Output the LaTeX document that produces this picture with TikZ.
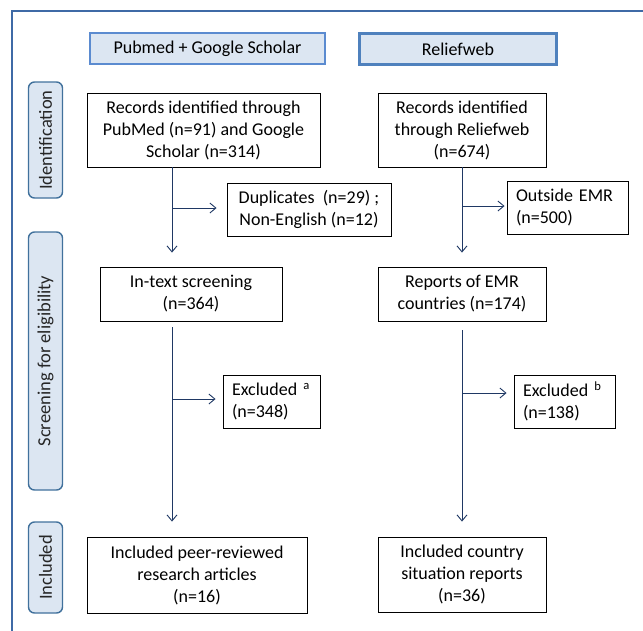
\documentclass[tikz,border=0pt]{standalone}
\usepackage{fontspec}
\setmainfont{Carlito}
\usetikzlibrary{arrows.meta}
\definecolor{hdrfill}{HTML}{DCE6F2}
\definecolor{hdrline}{HTML}{5B8BD0}
\definecolor{hdrline2}{HTML}{4F81BD}
\definecolor{sideline}{HTML}{41719C}
\definecolor{frameblue}{HTML}{3F6AA6}
\definecolor{arrowblue}{HTML}{1F3864}
\tikzset{
  box/.style={draw=black, line width=0.9pt, fill=white, inner sep=0pt, align=center, font=\fontsize{18}{22}\selectfont},
  lbox/.style={box, align=left},
  hdr/.style={draw=hdrline, fill=hdrfill, line width=1.3pt, inner sep=0pt, font=\fontsize{18}{22}\selectfont},
  side/.style={draw=sideline, fill=hdrfill, line width=1.4pt, rounded corners=6pt, inner sep=0pt, minimum width=34pt},
  sidetext/.style={rotate=90, font=\fontsize{18.5}{20}\selectfont, text=black!85},
  arr/.style={draw=arrowblue, line width=0.9pt, -{Straight Barb[length=6pt,width=10pt]}},
}
\begin{document}
\begin{tikzpicture}[x=1pt,y=-1pt]
\useasboundingbox (0,0) rectangle (643,630);
% outer frame (cut at right and bottom)
\draw[frameblue, line width=1.8pt] (12,640) -- (12,11) -- (650,11);

% headers
\node[hdr, minimum width=235pt, minimum height=31pt] (h1) at (207.5,48.5) {Pubmed + Google Scholar};
\node[hdr, draw=hdrline2, line width=2.4pt, minimum width=197pt, minimum height=31pt] (h2) at (458,49) {Reliefweb};

% side labels
\node[side, minimum height=116pt] (s1) at (45.5,140) {};
\node[sidetext] (s1t) at (s1.center) {Identification};
\node[side, minimum height=258pt] (s2) at (45.5,361) {};
\node[sidetext] (s2t) at (s2.center) {Screening for eligibility};
\node[side, minimum height=91pt] (s3) at (45.5,567.5) {};
\node[sidetext] (s3t) at (s3.center) {Included};

% boxes
\node[box, minimum width=233pt, minimum height=74pt] (rec1) at (203.5,130) {Records identified through\\PubMed (n=91) and Google\\Scholar (n=314)};
\node[box, minimum width=168pt, minimum height=74pt] (rec2) at (462,130) {Records identified\\through Reliefweb\\(n=674)};
\node[box, minimum width=164pt, minimum height=53pt] (dup) at (309,209.5) {Duplicates\ \ (n=29) ;\\Non-English (n=12)};
\node[lbox, minimum width=121pt, minimum height=53pt, text width=103pt] (out) at (567.5,207.5) {Outside EMR\\(n=500)};
\node[box, minimum width=182pt, minimum height=54pt] (scr) at (191,294) {In-text screening\\(n=364)};
\node[box, minimum width=168pt, minimum height=54pt] (rep) at (462,294) {Reports of EMR\\countries (n=174)};
\node[lbox, minimum width=97pt, minimum height=53pt, text width=79pt] (exa) at (271.5,401.5) {Excluded \textsuperscript{a}\\(n=348)};
\node[lbox, minimum width=101pt, minimum height=53pt, text width=83pt] (exb) at (564.5,401.5) {Excluded \textsuperscript{b}\\(n=138)};
\node[box, minimum width=220pt, minimum height=76pt] (inc1) at (197,575) {Included peer-reviewed\\research articles\\(n=16)};
\node[box, minimum width=168pt, minimum height=75pt] (inc2) at (462,574.5) {Included country\\situation reports\\(n=36)};

% connector coordinates
\coordinate (c1) at (172,0);
\coordinate (c2) at (462,0);
\coordinate (b1) at (172,208);
\coordinate (b2) at (462,206);
\coordinate (b3) at (172,399);
\coordinate (b4) at (462,393);

% left column
\draw[arr, shorten >=14pt] (rec1.south -| c1) -- (scr.north -| c1);
\draw[arr, shorten >=10pt] (b1) -- (b1 -| dup.west);
\draw[arr, shorten <=6pt, shorten >=15pt] (scr.south -| c1) -- (inc1.north -| c1);
\draw[arr, shorten >=7pt] (b3) -- (b3 -| exa.west);

% right column
\draw[arr, shorten >=14pt] (rec2.south) -- (rep.north);
\draw[arr, shorten >=2pt] (b2) -- (b2 -| out.west);
\draw[arr, shorten <=9pt, shorten >=15pt] (rep.south) -- (inc2.north);
\draw[arr, shorten >=7pt] (b4) -- (b4 -| exb.west);
\end{tikzpicture}
\end{document}
